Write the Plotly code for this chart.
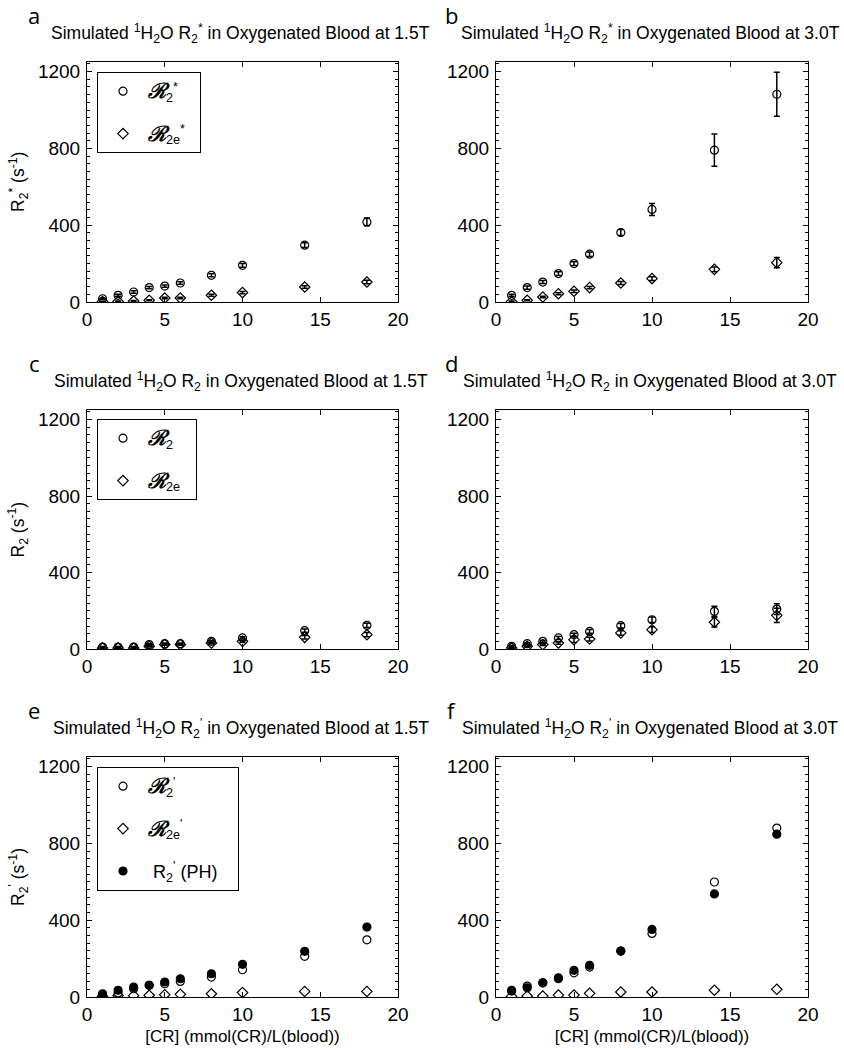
import plotly.graph_objects as go

W, H = 844, 1050
CR = [1, 2, 3, 4, 5, 6, 8, 10, 14, 18]

# Panel a (1.5T, R2*)
a_R2s = [17, 35, 52, 75, 83, 99, 139, 191, 296, 417]
a_R2s_err = [4, 5, 6, 6, 6, 7, 8, 10, 12, 20]
a_R2es = [2, 3, 5, 9, 21, 21, 35, 49, 78, 104]
a_R2es_err = [2, 2, 3, 3, 4, 4, 5, 6, 7, 9]
# Panel b (3.0T, R2*)
b_R2s = [35, 75, 104, 148, 200, 249, 362, 482, 791, 1082]
b_R2s_err = [5, 8, 8, 10, 10, 12, 15, 31, 84, 114]
b_R2es = [2, 9, 26, 43, 56, 75, 99, 122, 170, 205]
b_R2es_err = [3, 3, 4, 5, 6, 6, 8, 10, 12, 27]
# Panel c (1.5T, R2)
c_R2 = [10, 10, 10, 23, 28, 28, 40, 58, 96, 124]
c_R2_err = [3, 3, 3, 4, 4, 4, 5, 6, 9, 11]
c_R2e = [5, 5, 5, 14, 23, 23, 31, 40, 61, 75]
c_R2e_err = [2, 2, 2, 3, 3, 3, 4, 6, 9, 11]
# Panel d (3.0T, R2)
d_R2 = [14, 28, 40, 58, 75, 92, 122, 153, 197, 209]
d_R2_err = [4, 5, 6, 8, 8, 10, 12, 15, 26, 28]
d_R2e = [5, 14, 23, 31, 49, 52, 84, 101, 140, 176]
d_R2e_err = [3, 4, 5, 6, 15, 10, 12, 15, 25, 37]
# Panel e (1.5T, R2')
e_R2p = [12, 21, 43, 61, 69, 81, 104, 142, 212, 298]
e_R2ep = [3, 7, 7, 9, 12, 14, 17, 23, 29, 29]
e_PH = [17, 35, 52, 61, 78, 95, 121, 170, 238, 364]
# Panel f (3.0T, R2')
f_R2p = [31, 57, 74, 95, 126, 156, 239, 331, 599, 880]
f_R2ep = [3, 5, 5, 10, 10, 19, 26, 26, 35, 40]
f_PH = [35, 48, 74, 100, 139, 165, 239, 352, 537, 848]

x_ticks = [0, 5, 10, 15, 20]
y_ticks = [0, 400, 800, 1200]
x_label = "[CR] (mmol(CR)/L(blood))"

FONT = "Liberation Sans, Arial, sans-serif"
SCR = '<span style="font-family:DejaVu Serif;font-weight:bold;font-style:italic;font-size:21px">ℛ</span>'

# pixel geometry
cols = [(87, 398), (496, 808)]
rows = [(62, 302), (410, 649), (757, 997)]

fig = go.Figure()

def px_x(p):
    return p / W

def px_y(p):
    return 1 - p / H

panels = [
    ("a", 0, 0, "1.5T", "R<sub>2</sub><sup>*</sup>"),
    ("b", 0, 1, "3.0T", "R<sub>2</sub><sup>*</sup>"),
    ("c", 1, 0, "1.5T", "R<sub>2</sub>"),
    ("d", 1, 1, "3.0T", "R<sub>2</sub>"),
    ("e", 2, 0, "1.5T", "R<sub>2</sub><sup>'</sup>"),
    ("f", 2, 1, "3.0T", "R<sub>2</sub><sup>'</sup>"),
]

layout = {}
annotations = []
for i, (letter, r, c, field, sym) in enumerate(panels):
    n = i + 1
    xk = "xaxis" if n == 1 else f"xaxis{n}"
    yk = "yaxis" if n == 1 else f"yaxis{n}"
    x0, x1 = cols[c]
    y0, y1 = rows[r]
    ax_common = dict(
        showline=True, linecolor="black", linewidth=1, mirror="allticks",
        ticks="inside", ticklen=5, tickcolor="black", tickwidth=1,
        showgrid=False, zeroline=False, automargin=False,
        tickfont=dict(family=FONT, size=19, color="black"),
    )
    layout[xk] = dict(
        domain=[px_x(x0), px_x(x1)], range=[0, 20], tickvals=x_ticks,
        anchor=f"y{n}" if n > 1 else "y", **ax_common,
    )
    layout[yk] = dict(
        domain=[px_y(y1), px_y(y0)], range=[0, 1250], tickvals=y_ticks,
        anchor=f"x{n}" if n > 1 else "x",
        minor=dict(dtick=40, ticks="inside", ticklen=3, tickcolor="black"),
        ticklabelstandoff=2,
        **ax_common,
    )
    if r == 2:
        layout[xk]["title"] = dict(text=x_label, font=dict(family=FONT, size=17, color="black"), standoff=6)
    cx = (x0 + x1) / 2
    annotations.append(dict(
        x=px_x(cx - 2), y=px_y(y0 - 29), xref="paper", yref="paper",
        text=f"Simulated <sup>1</sup>H<sub>2</sub>O {sym} in Oxygenated Blood at {field}",
        showarrow=False, xanchor="center", yanchor="middle",
        font=dict(family=FONT, size=17.5, color="black"),
    ))
    lx = 34 if c == 0 else 451
    annotations.append(dict(
        x=px_x(lx), y=px_y(y0 - 47), xref="paper", yref="paper", text=letter,
        showarrow=False, xanchor="center", yanchor="middle",
        font=dict(family="Open Sans, sans-serif", size=22, color="black"),
    ))
    if c == 0:
        annotations.append(dict(
            x=px_x(18), y=px_y((y0 + y1) / 2), xref="paper", yref="paper",
            text=f"{sym} (s<sup>-1</sup>)", textangle=-90,
            showarrow=False, xanchor="center", yanchor="middle",
            font=dict(family=FONT, size=17.5, color="black"),
        ))

def add(n, y, sym, name, err=None, legend=None, showlegend=False, group=None, size=8):
    xa = "x" if n == 1 else f"x{n}"
    ya = "y" if n == 1 else f"y{n}"
    tr = dict(
        x=CR, y=y, mode="markers", xaxis=xa, yaxis=ya, name=name,
        marker=dict(symbol=sym, size=size, color="black", line=dict(color="black", width=1.2)),
        showlegend=showlegend, legendgroup=group,
    )
    if legend:
        tr["legend"] = legend
    if err is not None:
        tr["error_y"] = dict(type="data", array=err, color="black", thickness=1.5, width=3)
    fig.add_trace(go.Scatter(**tr))

add(1, a_R2s, "circle-open", f"{SCR}<sub>2</sub><sup>*</sup>&nbsp;&nbsp;", a_R2s_err, "legend", True, "a1")
add(1, a_R2es, "diamond-open", f"{SCR}<sub>2e</sub><sup>*</sup>&nbsp;&nbsp;", a_R2es_err, "legend", True, "a2")
add(2, b_R2s, "circle-open", "b1", b_R2s_err)
add(2, b_R2es, "diamond-open", "b2", b_R2es_err)
add(3, c_R2, "circle-open", f"{SCR}<sub>2</sub>&nbsp;&nbsp;", c_R2_err, "legend2", True, "c1")
add(3, c_R2e, "diamond-open", f"{SCR}<sub>2e</sub>&nbsp;&nbsp;", c_R2e_err, "legend2", True, "c2")
add(4, d_R2, "circle-open", "d1", d_R2_err)
add(4, d_R2e, "diamond-open", "d2", d_R2e_err)
add(5, e_R2p, "circle-open", f"{SCR}<sub>2</sub><sup>'</sup>", None, "legend3", True, "e1")
add(5, e_R2ep, "diamond-open", f"{SCR}<sub>2e</sub><sup>'</sup>", None, "legend3", True, "e2")
add(5, e_PH, "circle", "&nbsp;R<sub>2</sub><sup>'</sup> (PH)&nbsp;&nbsp;&nbsp;", None, "legend3", True, "e3")
add(6, f_R2p, "circle-open", "f1", None)
add(6, f_R2ep, "diamond-open", "f2", None)
add(6, f_PH, "circle", "f3", None)

leg_common = dict(
    xref="paper", yref="paper", xanchor="left", yanchor="top",
    bordercolor="black", borderwidth=1, bgcolor="white",
    font=dict(family=FONT, size=18, color="black"),
    tracegroupgap=16, itemwidth=40,
)
layout["legend"] = dict(x=px_x(97), y=px_y(72), **leg_common)
layout["legend2"] = dict(x=px_x(97), y=px_y(419), **leg_common)
layout["legend3"] = dict(x=px_x(97), y=px_y(767), **leg_common)

fig.update_layout(
    template="none",
    width=W, height=H, margin=dict(l=0, r=0, t=0, b=0, autoexpand=False),
    paper_bgcolor="white", plot_bgcolor="white",
    annotations=annotations, **layout,
)

fig.write_html(
    "out.html",
    config={"displayModeBar": False},
    post_script="document.body.style.margin='0';document.body.style.padding='0';",
)
